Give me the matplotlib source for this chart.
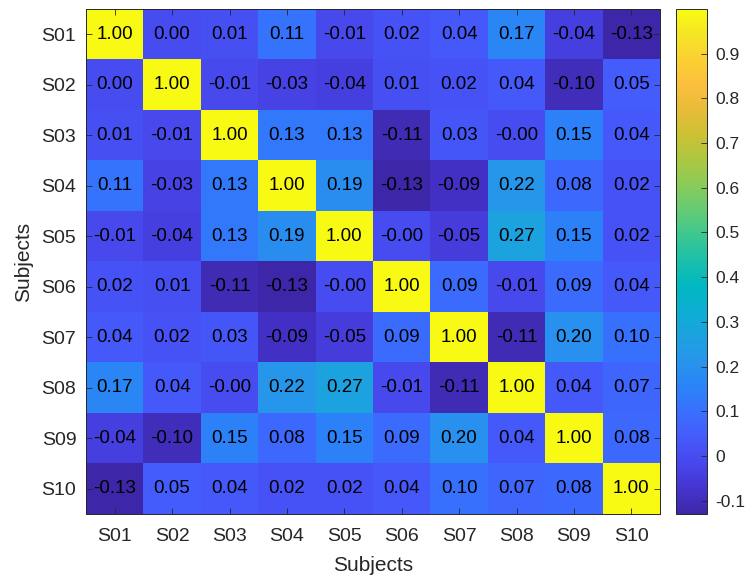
import numpy as np
import matplotlib
matplotlib.use("Agg")
import matplotlib.pyplot as plt
from matplotlib.colors import LinearSegmentedColormap

# Subject labels and pairwise correlation coefficients
subjects = ["S01", "S02", "S03", "S04", "S05", "S06", "S07", "S08", "S09", "S10"]

corr_values = [
    [1.00, 0.00, 0.01, 0.11, -0.01, 0.02, 0.04, 0.17, -0.04, -0.13],
    [0.00, 1.00, -0.01, -0.03, -0.04, 0.01, 0.02, 0.04, -0.10, 0.05],
    [0.01, -0.01, 1.00, 0.13, 0.13, -0.11, 0.03, -0.001, 0.15, 0.04],
    [0.11, -0.03, 0.13, 1.00, 0.19, -0.13, -0.09, 0.22, 0.08, 0.02],
    [-0.01, -0.04, 0.13, 0.19, 1.00, -0.001, -0.05, 0.27, 0.15, 0.02],
    [0.02, 0.01, -0.11, -0.13, -0.001, 1.00, 0.09, -0.01, 0.09, 0.04],
    [0.04, 0.02, 0.03, -0.09, -0.05, 0.09, 1.00, -0.11, 0.20, 0.10],
    [0.17, 0.04, -0.001, 0.22, 0.27, -0.01, -0.11, 1.00, 0.04, 0.07],
    [-0.04, -0.10, 0.15, 0.08, 0.15, 0.09, 0.20, 0.04, 1.00, 0.08],
    [-0.13, 0.05, 0.04, 0.02, 0.02, 0.04, 0.10, 0.07, 0.08, 1.00],
]

cbar_ticks = [-0.1, 0.0, 0.1, 0.2, 0.3, 0.4, 0.5, 0.6, 0.7, 0.8, 0.9]
cbar_ticklabels = ["-0.1", "0", "0.1", "0.2", "0.3", "0.4", "0.5", "0.6", "0.7", "0.8", "0.9"]

# Parula-like colormap
parula_pts = [
    (0.00, (0.2422, 0.1504, 0.6603)),
    (0.05, (0.2691, 0.2088, 0.8141)),
    (0.10, (0.2798, 0.2786, 0.9259)),
    (0.15, (0.2729, 0.3533, 0.9854)),
    (0.20, (0.2232, 0.4357, 0.9968)),
    (0.25, (0.1717, 0.5119, 0.9739)),
    (0.30, (0.1554, 0.5798, 0.9247)),
    (0.35, (0.1120, 0.6348, 0.8783)),
    (0.40, (0.0540, 0.6820, 0.8300)),
    (0.45, (0.0059, 0.7189, 0.7614)),
    (0.50, (0.0996, 0.7502, 0.6736)),
    (0.55, (0.2303, 0.7789, 0.5722)),
    (0.60, (0.3870, 0.7970, 0.4552)),
    (0.65, (0.5357, 0.7967, 0.3510)),
    (0.70, (0.6717, 0.7814, 0.2587)),
    (0.75, (0.7932, 0.7590, 0.2008)),
    (0.80, (0.9050, 0.7383, 0.2208)),
    (0.85, (0.9888, 0.7455, 0.2453)),
    (0.90, (0.9840, 0.8153, 0.1982)),
    (0.95, (0.9588, 0.8964, 0.1468)),
    (1.00, (0.9769, 0.9839, 0.0805)),
]
parula = LinearSegmentedColormap.from_list("parula", parula_pts, N=256)

plt.rcParams["font.family"] = ["Liberation Sans", "DejaVu Sans"]
text_col = (0.15, 0.15, 0.15)

data = np.array(corr_values)
n = len(subjects)

fig = plt.figure(figsize=(7.47, 5.79), dpi=100)
W, H = 747, 579
ax = fig.add_axes([86 / W, (H - 514) / H, (660 - 86) / W, (514 - 9) / H])
cax = fig.add_axes([676 / W, (H - 514) / H, (707 - 676) / W, (514 - 9) / H])

im = ax.imshow(data, cmap=parula, vmin=-0.13, vmax=1.0, aspect="auto",
               interpolation="nearest")

for i in range(n):
    for j in range(n):
        ax.text(j, i, f"{data[i, j]:.2f}", ha="center", va="center",
                fontsize=13.5, color="black")

ax.set_xticks(range(n))
ax.set_yticks(range(n))
ax.set_xticklabels(subjects)
ax.set_yticklabels(subjects)
ax.tick_params(direction="in", length=4, width=0.6, color=text_col,
               labelcolor=text_col, labelsize=14,
               top=True, right=True, pad=7)
ax.tick_params(axis="x", pad=10)
for s in ax.spines.values():
    s.set_color(text_col)
    s.set_linewidth(0.7)
ax.set_xlabel("Subjects", fontsize=15, color=text_col, labelpad=8)
ax.set_ylabel("Subjects", fontsize=15, color=text_col, labelpad=6)

cb = fig.colorbar(im, cax=cax)
cb.set_ticks(cbar_ticks)
cb.set_ticklabels(cbar_ticklabels)
cax.tick_params(direction="in", length=4, width=0.6, color=text_col,
                labelcolor=text_col, labelsize=12.5, pad=6)
cb.outline.set_edgecolor(text_col)
cb.outline.set_linewidth(0.7)

fig.savefig("out.png", dpi=100)
